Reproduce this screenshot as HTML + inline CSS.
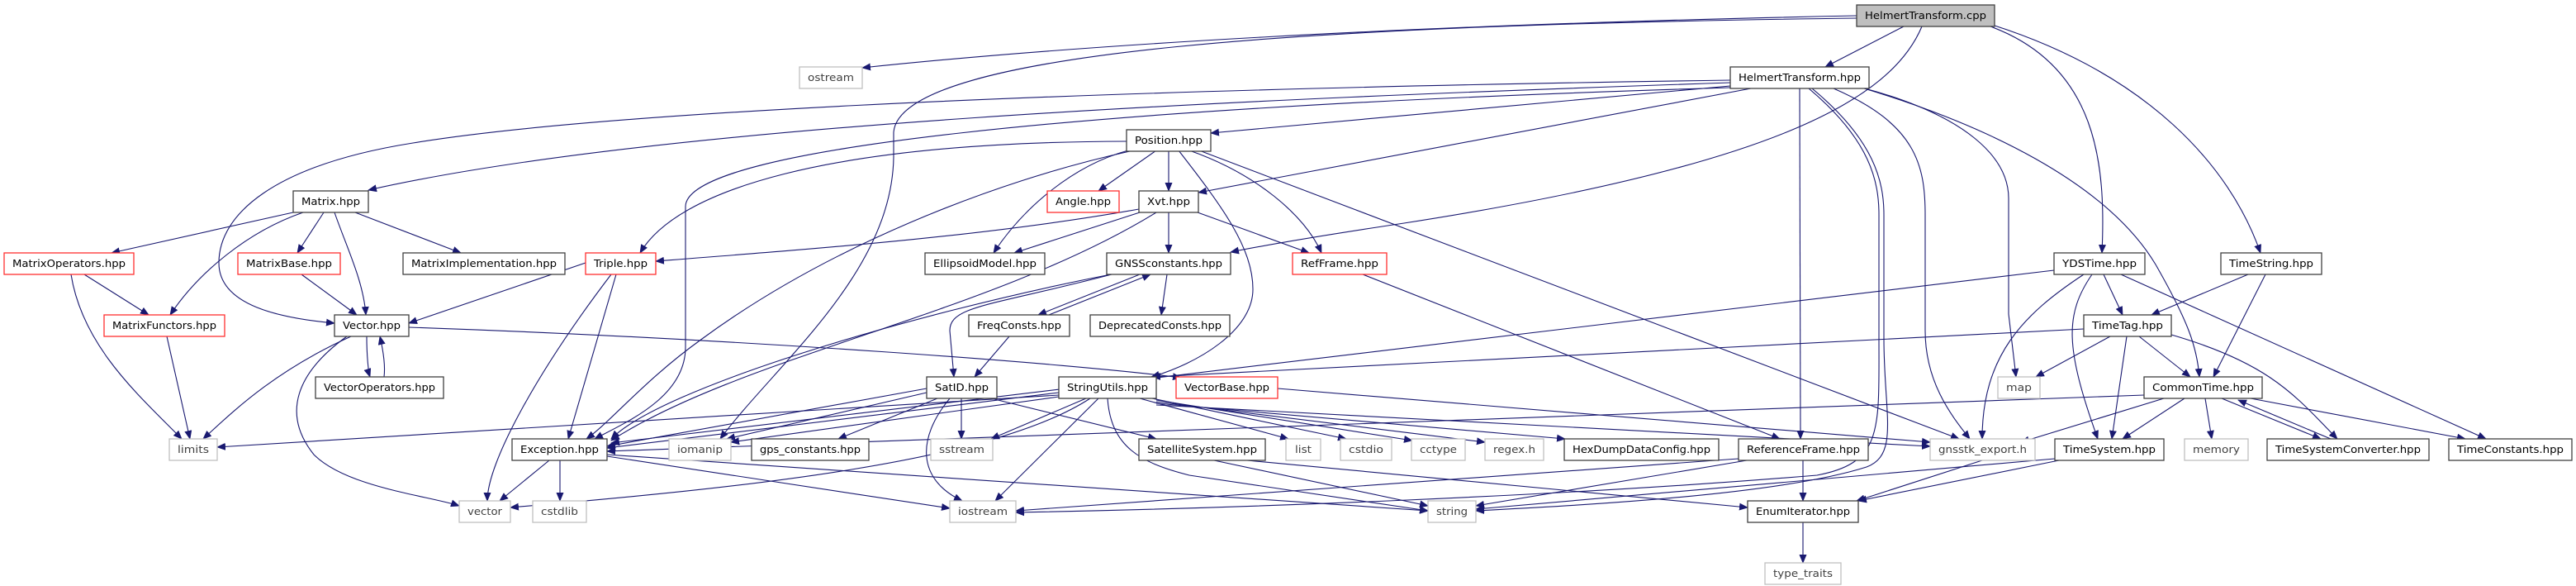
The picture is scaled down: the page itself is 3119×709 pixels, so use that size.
<!DOCTYPE html>
<html><head><meta charset="utf-8"><style>
html,body{margin:0;padding:0;background:#fff;}
svg{display:block;}
text{font-family:"DejaVu Sans","Liberation Sans",sans-serif;font-size:12px;fill:#000;}
.n rect{fill:#fff;stroke:#404040;stroke-width:1.3;}
.r rect{fill:#fff;stroke:#ff3030;stroke-width:1.3;}
.g rect{fill:#fff;stroke:#bfbfbf;stroke-width:1.3;}
.g text{fill:#404040;}
path.e{fill:none;stroke:#191970;stroke-width:1.1;marker-end:url(#a);}
</style></head><body>
<svg width="3119" height="709" viewBox="0 0 3119 709" xmlns="http://www.w3.org/2000/svg">
<defs><marker id="a" markerWidth="11" markerHeight="9" refX="10" refY="4.5" orient="auto" markerUnits="userSpaceOnUse"><path d="M0,0 L11,4.5 L0,9 z" fill="#191970"/></marker></defs>
<g>
<path class="e" d="M2305,32 L2210,81"/>
<path class="e" d="M2410,32 C2540,80 2550,200 2545,306"/>
<path class="e" d="M2412,30 C2600,90 2700,200 2737,306"/>
<path class="e" d="M2327,32 C2290,120 2150,200 1700,270 C1600,285 1540,295 1490,305"/>
<path class="e" d="M2248,19 C1700,30 1300,55 1044,82"/>
<path class="e" d="M2248,22 C1600,30 1090,60 1082,160 L1082,190 C1080,330 940,440 872,531"/>
<path class="e" d="M2095,100 C1500,120 800,150 446,230"/>
<path class="e" d="M2095,97 C1200,110 700,140 500,173 C330,200 265,260 265,318 C265,370 340,385 405,391"/>
<path class="e" d="M2095,104 L1466,161"/>
<path class="e" d="M2095,106 C1300,130 830,180 830,250 L830,420 C830,480 760,510 720,531"/>
<path class="e" d="M2120,107 L1451,233"/>
<path class="e" d="M2179,107 L2180,531"/>
<path class="e" d="M2194,107 C2270,170 2281,220 2281,260 L2281,410 C2281,500 2300,550 2260,565 C2150,600 1900,612 1787,618"/>
<path class="e" d="M2190,107 C2265,170 2275,220 2275,260 L2275,410 C2275,520 2280,560 2200,575 C1900,600 1500,615 1230,620"/>
<path class="e" d="M2220,107 C2320,150 2331,200 2331,260 L2331,400 C2331,460 2360,500 2385,531"/>
<path class="e" d="M2258,107 C2380,140 2432,190 2432,240 L2432,380 L2441,456"/>
<path class="e" d="M2257,107 C2400,150 2550,220 2610,320 C2650,390 2660,420 2663,456"/>
<path class="e" d="M1400,182 L1330,231"/>
<path class="e" d="M1415,182 L1415,231"/>
<path class="e" d="M1366,182 C1300,200 1240,250 1203,306"/>
<path class="e" d="M1364,171 C1000,172 820,230 775,306"/>
<path class="e" d="M1368,183 C1200,220 1000,300 850,410 C780,460 740,510 710,531"/>
<path class="e" d="M1427,182 C1480,250 1517,300 1517,350 C1517,400 1450,440 1394,456"/>
<path class="e" d="M1440,182 C1520,210 1580,260 1600,306"/>
<path class="e" d="M1452,182 L2372,531"/>
<path class="e" d="M355,257 L135,306"/>
<path class="e" d="M367,257 C300,280 240,330 206,381"/>
<path class="e" d="M392,257 L360,306"/>
<path class="e" d="M405,257 C420,300 440,340 443,381"/>
<path class="e" d="M430,257 L558,306"/>
<path class="e" d="M102,332 L180,381"/>
<path class="e" d="M86,332 C100,420 170,480 220,531"/>
<path class="e" d="M202,407 L230,531"/>
<path class="e" d="M365,332 L432,381"/>
<path class="e" d="M709,318 L495,391"/>
<path class="e" d="M740,332 C650,450 590,560 590,606"/>
<path class="e" d="M746,332 L688,531"/>
<path class="e" d="M444,407 C444,430 446,450 448,456"/>
<path class="e" d="M465,456 C467,440 463,420 460,407"/>
<path class="e" d="M425,407 C330,450 280,500 246,531"/>
<path class="e" d="M420,407 C360,450 340,500 380,550 C420,590 520,600 556,612"/>
<path class="e" d="M495,396 C900,410 1300,440 1430,457"/>
<path class="e" d="M1379,253 C1200,285 1000,300 794,316"/>
<path class="e" d="M1380,257 L1228,306"/>
<path class="e" d="M1415,257 L1415,306"/>
<path class="e" d="M1450,257 L1585,306"/>
<path class="e" d="M1400,257 C1200,380 900,430 740,533"/>
<path class="e" d="M1380,332 L1257,381"/>
<path class="e" d="M1270,381 L1393,332"/>
<path class="e" d="M1413,332 L1406,381"/>
<path class="e" d="M1346,332 C1200,370 1150,370 1150,400 L1155,456"/>
<path class="e" d="M1345,332 C1100,380 800,470 740,531"/>
<path class="e" d="M1222,407 L1180,456"/>
<path class="e" d="M1650,332 L2155,531"/>
<path class="e" d="M1122,470 L735,540"/>
<path class="e" d="M1122,475 L880,531"/>
<path class="e" d="M1135,482 L1015,531"/>
<path class="e" d="M1164,482 L1164,531"/>
<path class="e" d="M1150,482 C1110,530 1110,580 1165,606"/>
<path class="e" d="M1200,482 L1400,531"/>
<path class="e" d="M1282,475 L735,542"/>
<path class="e" d="M1282,478 L263,541"/>
<path class="e" d="M1282,480 L885,535"/>
<path class="e" d="M1315,482 L1200,531"/>
<path class="e" d="M1380,482 L1560,531"/>
<path class="e" d="M1395,482 L1630,531"/>
<path class="e" d="M1400,484 L1710,533"/>
<path class="e" d="M1400,486 L1798,535"/>
<path class="e" d="M1400,488 L1895,531"/>
<path class="e" d="M1400,490 L2337,540"/>
<path class="e" d="M1330,482 L1205,606"/>
<path class="e" d="M1341,482 C1345,540 1380,560 1440,575 L1729,618"/>
<path class="e" d="M1320,482 C1200,560 900,590 618,614"/>
<path class="e" d="M1547,470 L2337,535"/>
<path class="e" d="M1470,557 L1729,612"/>
<path class="e" d="M1510,557 L2116,614"/>
<path class="e" d="M665,557 L605,606"/>
<path class="e" d="M678,557 L678,606"/>
<path class="e" d="M735,552 L1150,615"/>
<path class="e" d="M735,550 L1729,618"/>
<path class="e" d="M2183,557 L2183,606"/>
<path class="e" d="M2115,557 L1787,612"/>
<path class="e" d="M2105,555 L1230,618"/>
<path class="e" d="M2400,557 L2248,606"/>
<path class="e" d="M2183,632 L2183,681"/>
<path class="e" d="M2487,327 L740,536"/>
<path class="e" d="M2547,332 L2570,381"/>
<path class="e" d="M2533,332 C2500,380 2500,420 2540,531"/>
<path class="e" d="M2523,332 C2450,380 2400,430 2400,531"/>
<path class="e" d="M2568,332 L3010,531"/>
<path class="e" d="M2722,332 L2605,381"/>
<path class="e" d="M2743,332 L2680,456"/>
<path class="e" d="M2523,398 L1395,456"/>
<path class="e" d="M2555,407 L2465,456"/>
<path class="e" d="M2590,407 L2652,456"/>
<path class="e" d="M2575,407 L2557,531"/>
<path class="e" d="M2629,405 C2750,440 2780,480 2830,531"/>
<path class="e" d="M2596,478 L735,546"/>
<path class="e" d="M2620,482 L2447,535"/>
<path class="e" d="M2645,482 L2570,531"/>
<path class="e" d="M2670,482 L2678,531"/>
<path class="e" d="M2690,482 L2810,531"/>
<path class="e" d="M2822,531 L2710,484"/>
<path class="e" d="M2725,482 L2985,531"/>
<path class="e" d="M2488,555 L1787,616"/>
<path class="e" d="M2493,557 L2250,606"/>
</g>
<g>
<g class="n"><rect x="2248" y="6" width="167" height="26" style="fill:#bfbfbf"/><text x="2331.5" y="23" text-anchor="middle" textLength="147" lengthAdjust="spacingAndGlyphs">HelmertTransform.cpp</text></g>
<g class="n"><rect x="2095" y="81" width="168" height="26"/><text x="2179" y="98" text-anchor="middle" textLength="148" lengthAdjust="spacingAndGlyphs">HelmertTransform.hpp</text></g>
<g class="g"><rect x="968" y="81" width="76" height="26"/><text x="1006" y="98" text-anchor="middle" textLength="56" lengthAdjust="spacingAndGlyphs">ostream</text></g>
<g class="n"><rect x="1364" y="157" width="102" height="26"/><text x="1415" y="174" text-anchor="middle" textLength="82" lengthAdjust="spacingAndGlyphs">Position.hpp</text></g>
<g class="n"><rect x="355" y="231" width="91" height="26"/><text x="400.5" y="248" text-anchor="middle" textLength="71" lengthAdjust="spacingAndGlyphs">Matrix.hpp</text></g>
<g class="r"><rect x="1268" y="231" width="87" height="26"/><text x="1311.5" y="248" text-anchor="middle" textLength="67" lengthAdjust="spacingAndGlyphs">Angle.hpp</text></g>
<g class="n"><rect x="1379" y="231" width="72" height="26"/><text x="1415" y="248" text-anchor="middle" textLength="52" lengthAdjust="spacingAndGlyphs">Xvt.hpp</text></g>
<g class="r"><rect x="5" y="306" width="157" height="26"/><text x="83.5" y="323" text-anchor="middle" textLength="137" lengthAdjust="spacingAndGlyphs">MatrixOperators.hpp</text></g>
<g class="r"><rect x="288" y="306" width="124" height="26"/><text x="350" y="323" text-anchor="middle" textLength="104" lengthAdjust="spacingAndGlyphs">MatrixBase.hpp</text></g>
<g class="n"><rect x="488" y="306" width="196" height="26"/><text x="586" y="323" text-anchor="middle" textLength="176" lengthAdjust="spacingAndGlyphs">MatrixImplementation.hpp</text></g>
<g class="r"><rect x="709" y="306" width="85" height="26"/><text x="751.5" y="323" text-anchor="middle" textLength="65" lengthAdjust="spacingAndGlyphs">Triple.hpp</text></g>
<g class="n"><rect x="1120" y="306" width="145" height="26"/><text x="1192.5" y="323" text-anchor="middle" textLength="125" lengthAdjust="spacingAndGlyphs">EllipsoidModel.hpp</text></g>
<g class="n"><rect x="1340" y="306" width="150" height="26"/><text x="1415" y="323" text-anchor="middle" textLength="130" lengthAdjust="spacingAndGlyphs">GNSSconstants.hpp</text></g>
<g class="r"><rect x="1565" y="306" width="114" height="26"/><text x="1622" y="323" text-anchor="middle" textLength="94" lengthAdjust="spacingAndGlyphs">RefFrame.hpp</text></g>
<g class="n"><rect x="2487" y="306" width="110" height="26"/><text x="2542" y="323" text-anchor="middle" textLength="90" lengthAdjust="spacingAndGlyphs">YDSTime.hpp</text></g>
<g class="n"><rect x="2689" y="306" width="122" height="26"/><text x="2750" y="323" text-anchor="middle" textLength="102" lengthAdjust="spacingAndGlyphs">TimeString.hpp</text></g>
<g class="r"><rect x="126" y="381" width="146" height="26"/><text x="199" y="398" text-anchor="middle" textLength="126" lengthAdjust="spacingAndGlyphs">MatrixFunctors.hpp</text></g>
<g class="n"><rect x="405" y="381" width="90" height="26"/><text x="450" y="398" text-anchor="middle" textLength="70" lengthAdjust="spacingAndGlyphs">Vector.hpp</text></g>
<g class="n"><rect x="1173" y="381" width="122" height="26"/><text x="1234" y="398" text-anchor="middle" textLength="102" lengthAdjust="spacingAndGlyphs">FreqConsts.hpp</text></g>
<g class="n"><rect x="1320" y="381" width="169" height="26"/><text x="1404.5" y="398" text-anchor="middle" textLength="149" lengthAdjust="spacingAndGlyphs">DeprecatedConsts.hpp</text></g>
<g class="n"><rect x="2523" y="381" width="106" height="26"/><text x="2576" y="398" text-anchor="middle" textLength="86" lengthAdjust="spacingAndGlyphs">TimeTag.hpp</text></g>
<g class="n"><rect x="382" y="456" width="155" height="26"/><text x="459.5" y="473" text-anchor="middle" textLength="135" lengthAdjust="spacingAndGlyphs">VectorOperators.hpp</text></g>
<g class="n"><rect x="1122" y="456" width="85" height="26"/><text x="1164.5" y="473" text-anchor="middle" textLength="65" lengthAdjust="spacingAndGlyphs">SatID.hpp</text></g>
<g class="n"><rect x="1282" y="456" width="118" height="26"/><text x="1341" y="473" text-anchor="middle" textLength="98" lengthAdjust="spacingAndGlyphs">StringUtils.hpp</text></g>
<g class="r"><rect x="1424" y="456" width="123" height="26"/><text x="1485.5" y="473" text-anchor="middle" textLength="103" lengthAdjust="spacingAndGlyphs">VectorBase.hpp</text></g>
<g class="g"><rect x="2419" y="456" width="51" height="26"/><text x="2444.5" y="473" text-anchor="middle" textLength="31" lengthAdjust="spacingAndGlyphs">map</text></g>
<g class="n"><rect x="2596" y="456" width="143" height="26"/><text x="2667.5" y="473" text-anchor="middle" textLength="123" lengthAdjust="spacingAndGlyphs">CommonTime.hpp</text></g>
<g class="g"><rect x="205" y="531" width="58" height="26"/><text x="234" y="548" text-anchor="middle" textLength="38" lengthAdjust="spacingAndGlyphs">limits</text></g>
<g class="n"><rect x="620" y="531" width="115" height="26"/><text x="677.5" y="548" text-anchor="middle" textLength="95" lengthAdjust="spacingAndGlyphs">Exception.hpp</text></g>
<g class="g"><rect x="810" y="531" width="75" height="26"/><text x="847.5" y="548" text-anchor="middle" textLength="55" lengthAdjust="spacingAndGlyphs">iomanip</text></g>
<g class="n"><rect x="910" y="531" width="142" height="26"/><text x="981" y="548" text-anchor="middle" textLength="122" lengthAdjust="spacingAndGlyphs">gps_constants.hpp</text></g>
<g class="g"><rect x="1127" y="531" width="75" height="26"/><text x="1164.5" y="548" text-anchor="middle" textLength="55" lengthAdjust="spacingAndGlyphs">sstream</text></g>
<g class="n"><rect x="1379" y="531" width="153" height="26"/><text x="1455.5" y="548" text-anchor="middle" textLength="133" lengthAdjust="spacingAndGlyphs">SatelliteSystem.hpp</text></g>
<g class="g"><rect x="1557" y="531" width="42" height="26"/><text x="1578" y="548" text-anchor="middle" textLength="20" lengthAdjust="spacingAndGlyphs">list</text></g>
<g class="g"><rect x="1623" y="531" width="62" height="26"/><text x="1654" y="548" text-anchor="middle" textLength="42" lengthAdjust="spacingAndGlyphs">cstdio</text></g>
<g class="g"><rect x="1709" y="531" width="65" height="26"/><text x="1741.5" y="548" text-anchor="middle" textLength="45" lengthAdjust="spacingAndGlyphs">cctype</text></g>
<g class="g"><rect x="1798" y="531" width="71" height="26"/><text x="1833.5" y="548" text-anchor="middle" textLength="51" lengthAdjust="spacingAndGlyphs">regex.h</text></g>
<g class="n"><rect x="1894" y="531" width="187" height="26"/><text x="1987.5" y="548" text-anchor="middle" textLength="167" lengthAdjust="spacingAndGlyphs">HexDumpDataConfig.hpp</text></g>
<g class="n"><rect x="2105" y="531" width="157" height="26"/><text x="2183.5" y="548" text-anchor="middle" textLength="137" lengthAdjust="spacingAndGlyphs">ReferenceFrame.hpp</text></g>
<g class="g"><rect x="2337" y="531" width="127" height="26"/><text x="2400.5" y="548" text-anchor="middle" textLength="107" lengthAdjust="spacingAndGlyphs">gnsstk_export.h</text></g>
<g class="n"><rect x="2488" y="531" width="132" height="26"/><text x="2554" y="548" text-anchor="middle" textLength="112" lengthAdjust="spacingAndGlyphs">TimeSystem.hpp</text></g>
<g class="g"><rect x="2645" y="531" width="77" height="26"/><text x="2683.5" y="548" text-anchor="middle" textLength="57" lengthAdjust="spacingAndGlyphs">memory</text></g>
<g class="n"><rect x="2745" y="531" width="196" height="26"/><text x="2843" y="548" text-anchor="middle" textLength="176" lengthAdjust="spacingAndGlyphs">TimeSystemConverter.hpp</text></g>
<g class="n"><rect x="2965" y="531" width="149" height="26"/><text x="3039.5" y="548" text-anchor="middle" textLength="129" lengthAdjust="spacingAndGlyphs">TimeConstants.hpp</text></g>
<g class="g"><rect x="556" y="606" width="62" height="26"/><text x="587" y="623" text-anchor="middle" textLength="42" lengthAdjust="spacingAndGlyphs">vector</text></g>
<g class="g"><rect x="645" y="606" width="65" height="26"/><text x="677.5" y="623" text-anchor="middle" textLength="45" lengthAdjust="spacingAndGlyphs">cstdlib</text></g>
<g class="g"><rect x="1150" y="606" width="80" height="26"/><text x="1190" y="623" text-anchor="middle" textLength="60" lengthAdjust="spacingAndGlyphs">iostream</text></g>
<g class="g"><rect x="1729" y="606" width="58" height="26"/><text x="1758" y="623" text-anchor="middle" textLength="38" lengthAdjust="spacingAndGlyphs">string</text></g>
<g class="n"><rect x="2116" y="606" width="134" height="26"/><text x="2183" y="623" text-anchor="middle" textLength="114" lengthAdjust="spacingAndGlyphs">EnumIterator.hpp</text></g>
<g class="g"><rect x="2137" y="681" width="92" height="26"/><text x="2183" y="698" text-anchor="middle" textLength="72" lengthAdjust="spacingAndGlyphs">type_traits</text></g>
</g>
</svg>
</body></html>
